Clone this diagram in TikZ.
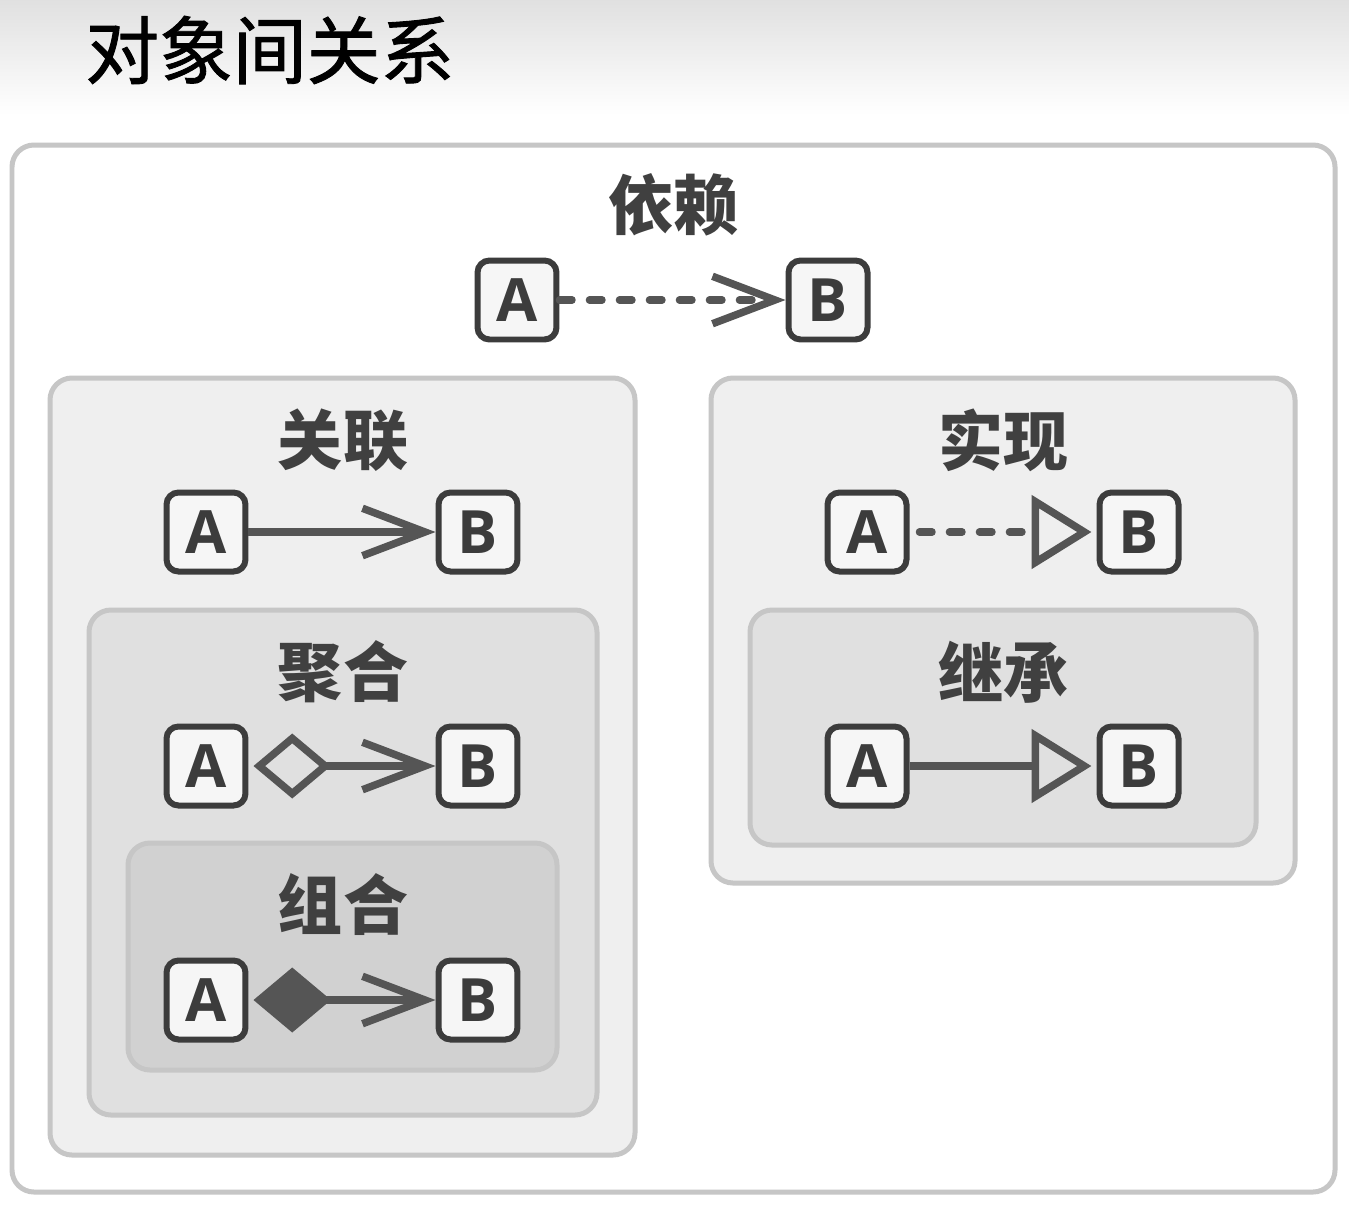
\documentclass[tikz,border=0pt]{standalone}
\usepackage{fontspec}
\setmainfont{Open Sans}
\newfontfamily\cjk{Noto Sans CJK SC}
\newfontfamily\cjktitle{Noto Sans CJK SC}[FakeBold=1.2]
\usetikzlibrary{arrows.meta}

\definecolor{framegray}{HTML}{C6C6C6}
\definecolor{levelone}{HTML}{EFEFEF}
\definecolor{leveltwo}{HTML}{E0E0E0}
\definecolor{levelthree}{HTML}{D1D1D1}
\definecolor{linkgray}{HTML}{555555}
\definecolor{boxline}{HTML}{3C3C3C}
\definecolor{boxfill}{HTML}{F6F6F6}
\definecolor{labelgray}{HTML}{404040}

\begin{document}
\begin{tikzpicture}[x=0.02cm,y=-0.02cm,
  cls/.style={draw=boxline,fill=boxfill,line width=0.12cm,rounded corners=0.24cm,
    minimum size=1.58cm,inner sep=0pt,font=\fontsize{34}{34}\selectfont\bfseries,text=boxline},
  grouptitle/.style={font=\cjk\bfseries\fontsize{37}{37}\selectfont,text=labelgray,inner sep=0pt},
  group/.style={draw=framegray,line width=0.1cm,rounded corners=0.44cm},
  link/.style={draw=linkgray,line width=0.15cm},
  dashlink/.style={link,line cap=round,dash pattern=on 0.25cm off 0.35cm},
  barb/.style={-{Straight Barb[length=1.25cm,width=0.95cm,line cap=butt]}},
  hollow/.style={-{Triangle[open,length=1.2cm,width=1.45cm]}}]
% background
\useasboundingbox (0,0) rectangle (1349,1204);
\fill[white] (0,0) rectangle (1349,1204);
\shade[top color=black!12,bottom color=white] (0,0) rectangle (1349,115);
% title
\node[anchor=west,text=black,font=\cjktitle\fontsize{42}{42}\selectfont,inner sep=0pt] (title) at (85,50) {对象间关系};

% frames
\draw[group,fill=white] (12,145) rectangle (1335,1192);
\draw[group,fill=levelone] (50,378) rectangle (635,1155);
\draw[group,fill=leveltwo] (89,610) rectangle (597,1115);
\draw[group,fill=levelthree] (128,843) rectangle (557,1070);
\draw[group,fill=levelone] (711,378) rectangle (1295,883);
\draw[group,fill=leveltwo] (750,610) rectangle (1256,845);

% dependency
\node[grouptitle] (deplabel) at (673,205) {依赖};
\node[cls] (depA) at (517,300) {A};
\node[cls] (depB) at (828,300) {B};
\draw[dashlink,barb] (depA) -- (depB);

% association
\node[grouptitle] (asslabel) at (343,440) {关联};
\node[cls] (assA) at (206,532) {A};
\node[cls] (assB) at (478,532) {B};
\draw[link,barb] (assA) -- (assB);

% aggregation
\node[grouptitle] (agglabel) at (343,672) {聚合};
\node[cls] (aggA) at (206,766) {A};
\node[cls] (aggB) at (478,766) {B};
\draw[link,{Diamond[open,length=1.55cm,width=1.3cm]}-{Straight Barb[length=1.25cm,width=0.95cm,line cap=butt]},shorten <=0.1cm] (aggA) -- (aggB);

% composition
\node[grouptitle] (comlabel) at (343,905) {组合};
\node[cls] (comA) at (206,1000) {A};
\node[cls] (comB) at (478,1000) {B};
\draw[link,{Diamond[fill=linkgray,length=1.55cm,width=1.3cm]}-{Straight Barb[length=1.25cm,width=0.95cm,line cap=butt]},shorten <=0.1cm] (comA) -- (comB);

% realization
\node[grouptitle] (reallabel) at (1003,440) {实现};
\node[cls] (realA) at (867,532) {A};
\node[cls] (realB) at (1139,532) {B};
\draw[dashlink,hollow,shorten <=0.2cm,shorten >=0.1cm] (realA) -- (realB);

% inheritance
\node[grouptitle] (inhlabel) at (1003,672) {继承};
\node[cls] (inhA) at (867,766) {A};
\node[cls] (inhB) at (1139,766) {B};
\draw[link,hollow,shorten >=0.1cm] (inhA) -- (inhB);
\end{tikzpicture}
\end{document}
